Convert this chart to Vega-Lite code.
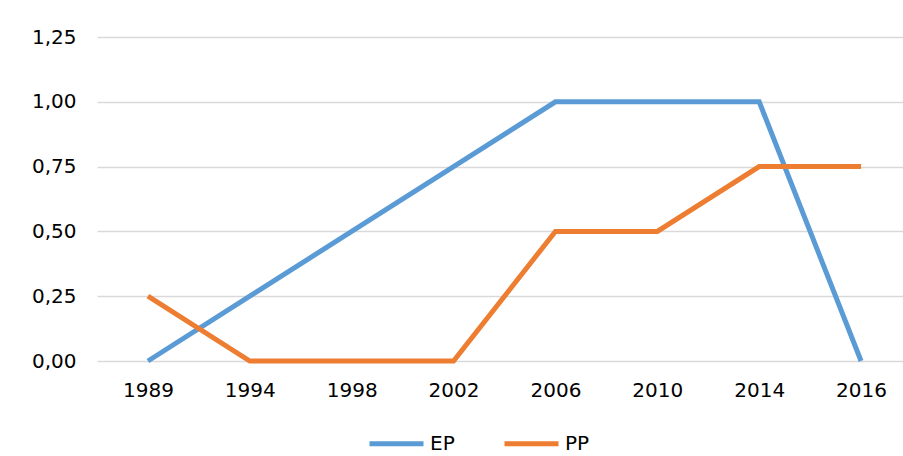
{
  "$schema": "https://vega.github.io/schema/vega-lite/v6.json",
  "width": 815,
  "height": 324,
  "autosize": {"type": "none"},
  "padding": {"left": 97, "top": 37, "right": 0, "bottom": 95},
  "background": "white",
  "config": {
    "view": {"stroke": null},
    "font": "DejaVu Sans"
  },
  "data": {
    "values": [
      {"year": "1989", "series": "EP", "value": 0},
      {"year": "1994", "series": "EP", "value": 0.25},
      {"year": "1998", "series": "EP", "value": 0.5},
      {"year": "2002", "series": "EP", "value": 0.75},
      {"year": "2006", "series": "EP", "value": 1},
      {"year": "2010", "series": "EP", "value": 1},
      {"year": "2014", "series": "EP", "value": 1},
      {"year": "2016", "series": "EP", "value": 0},
      {"year": "1989", "series": "PP", "value": 0.25},
      {"year": "1994", "series": "PP", "value": 0},
      {"year": "1998", "series": "PP", "value": 0},
      {"year": "2002", "series": "PP", "value": 0},
      {"year": "2006", "series": "PP", "value": 0.5},
      {"year": "2010", "series": "PP", "value": 0.5},
      {"year": "2014", "series": "PP", "value": 0.75},
      {"year": "2016", "series": "PP", "value": 0.75}
    ]
  },
  "mark": {"type": "line", "strokeWidth": 5, "strokeCap": "butt", "strokeJoin": "miter"},
  "encoding": {
    "x": {
      "field": "year", "type": "ordinal",
      "scale": {"type": "point", "padding": 0.5},
      "axis": {
        "title": null, "labelAngle": 0, "labelFontSize": 20, "labelColor": "#000000",
        "labelPadding": 19, "ticks": false, "domain": false, "grid": false
      }
    },
    "y": {
      "field": "value", "type": "quantitative",
      "scale": {"domain": [0, 1.25], "nice": false},
      "axis": {
        "title": null, "values": [0, 0.25, 0.5, 0.75, 1, 1.25],
        "labelExpr": "replace(format(datum.value, '.2f'), '.', ',')",
        "labelFontSize": 20, "labelColor": "#000000", "labelPadding": 21,
        "ticks": false, "domain": false,
        "grid": true, "gridColor": "#d9d9d9", "gridWidth": 1.5
      }
    },
    "color": {
      "field": "series", "type": "nominal",
      "scale": {"domain": ["EP", "PP"], "range": ["#5b9bd5", "#ed7d31"]},
      "legend": {
        "title": null, "orient": "none", "direction": "horizontal",
        "legendX": 270, "legendY": 377,
        "symbolType": "stroke", "symbolSize": 2916, "symbolStrokeWidth": 5,
        "symbolStrokeColor": {"expr": "scale('color', datum.value)"},
        "labelFontSize": 20, "labelColor": "#000000", "labelOffset": 4,
        "columnPadding": 39
      }
    }
  }
}
